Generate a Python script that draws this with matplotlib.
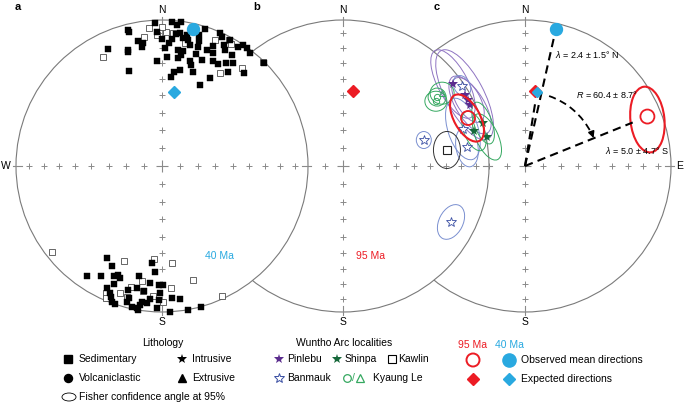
import numpy as np
import matplotlib.pyplot as plt
from matplotlib.patches import Circle, Ellipse, Arc

plt.rcParams['font.family'] = ['Liberation Sans', 'DejaVu Sans']
plt.rcParams['mathtext.fontset'] = 'custom'
plt.rcParams['mathtext.it'] = 'Liberation Sans:italic'
plt.rcParams['mathtext.rm'] = 'Liberation Sans'

# ---- data (declination, inclination in degrees) ----
# panel a: site directions, filled = lower hemisphere, open = upper hemisphere
a_fill_dec = [357, 4, 7.5, 6, 346, 346, 358, 7.7, 10.8, 9.3, 15.8, 17.4, 23.6, 24.9, 349, 351, 0,
              3.3, 11.7, 13, 16.5, 23, 27.1, 28.4, 32.6, 33.8, 35.8, 335.2, 343.7, 343.4, 350.5, 1.5,
              7.9, 10.3, 9.7, 16.8, 21.2, 24.3, 28.5, 32.2, 37.9, 2.6, 357.3, 8.4, 16.9, 20.7, 14.9,
              16, 25.9, 28.8, 31.9, 34.6, 44.7, 340.8, 10.6, 7.2, 5.6, 18.3, 35.1, 41.4, 28.6, 25.4,
              6, 4.5,
              210.9, 206.6, 214.3, 209, 203.6, 202, 200.6, 191.8, 185.9, 183.8, 202.1, 185.9, 181.4,
              179.5, 204.3, 202.3, 201.3, 195.3, 191.6, 194, 194.4, 188.2, 180.9, 181.3, 175.7, 172.3,
              200.2, 198.8, 192, 190, 189, 188.4, 182, 176.9, 169.8, 164.5, 189.5, 186.2, 185.2]
a_fill_inc = [2.2, 1.2, 0.6, 3.3, 4.5, 6.0, 9.0, 8.9, 9.5, 12.2, 7.5, 1.9, 0.7, 2.9, 13.9, 15.8, 14.1,
              16.8, 12.9, 16.0, 11.6, 11.6, 7.6, 2.2, 3.7, 0.3, 0.5, 12.8, 18.4, 19.8, 18.6, 20.5,
              21.1, 21.2, 24.0, 15.9, 15.8, 16.1, 10.5, 11.1, 2.2, 26.2, 28.7, 26.1, 21.1, 23.5, 26.4,
              28.7, 21.3, 21.5, 18.1, 15.4, 0.8, 31.7, 33.8, 35.2, 38.4, 32.9, 22.4, 16.1, 32, 38.8,
              10, 13.5,
              27.3, 24.5, 9.7, 14.9, 19.1, 20.8, 19.4, 24.1, 33.9, 28, 13.8, 20.7, 19.8,
              19.8, 9.0, 6.7, 4.2, 13, 15.8, 7.5, 4.4, 14.6, 14.1, 9, 10.2, 8.9,
              0.8, 0.2, 1.4, 1.4, 4.1, 6.5, 3.0, 0.2, 0, 0, 0, 6.3, 9.6]
a_open_dec = [354.6, 1.7, 4.7, 352, 10.6, 22.8, 28, 29.5, 331.6, 32, 39.2, 44.2, 0, 358,
              232, 201.8, 184.9, 174.1, 164.8, 189.9, 194.4, 188.6, 175.8, 198.3, 203.8, 203,
              184, 179.6, 155.2, 195]
a_open_inc = [-5.6, -9, -9.4, -11.8, -15.4, -7.1, -2.6, -4.5, -16.2, -25.8, -14.4, -0.8, -5.3, -11,
              -5, -30.5, -36.3, -33.9, -20.4, -21.3, -15.5, -14.6, -17.3, -9.1, -5.5, -2,
              -11.7, -7.6, -2.2, -7.9]

# mean directions
obs40 = (12.7, 4.4)
exp40 = (9.2, 47.4)
exp95 = (7.4, 47.0)
obs95 = (68.0, 10.5)
arc_mean = (310.1, 47.7)

# panel c: Wuntho Arc localities
pinlebu_dec = [318.7, 319.7, 318.0, 319.2]
pinlebu_inc = [26.2, 36.2, 43.1, 40.0]
banmauk_dec = [321.8, 300.8, 288.1, 284.4, 232.9]
banmauk_inc = [30.8, 49.0, 55.6, 29.2, 36.6]
shinpa_dec = [315.7, 307.4, 304.5]
shinpa_inc = [56.2, 63.2, 55.1]
kyaung_c_dec = [308.1, 306.0]
kyaung_c_inc = [24.5, 25.5]
kyaung_t_dec = [311.3]
kyaung_t_inc = [25.4]
kawlin_dec = [281.6]
kawlin_inc = [44.6]

# confidence ellipse shapes on the net (width, height, angle)
pinlebu_ell = [(76, 30, 62), (100, 38, 62), (66, 28, 58), (50, 24, 60)]
banmauk_ell = [(22, 16, 60), (64, 30, 72), (40, 22, 80), (17, 15, 90), (37, 24, -63)]
shinpa_ell = [(44, 18, 70), (50, 22, 65), (42, 20, 68)]
kyaung_ell = [(18, 18, 0), (22, 20, 0)]

BLUE = '#29a9e0'
RED = '#ec1c24'
PURPLE = '#5b2d8e'
PURPLE_L = '#8f74c2'
NAVY = '#3a4fa3'
NAVY_L = '#7a8fd0'
GREEN_D = '#16683a'
GREEN = '#35a860'
GREY = '#8a8a8a'

CY = 166
R = 146
CX = [162, 343, 525]


def proj(cx, dec, inc):
    dec = np.radians(np.asarray(dec, dtype=float))
    inc = np.abs(np.asarray(inc, dtype=float))
    r = R * np.sqrt(2) * np.sin(np.radians(90 - inc) / 2)
    return cx + r * np.sin(dec), CY - r * np.cos(dec)


fig = plt.figure(figsize=(6.85, 4.03), dpi=100)
ax = fig.add_axes([0, 0, 1, 1])
ax.set_xlim(0, 685)
ax.set_ylim(403, 0)
ax.set_aspect('equal')
ax.axis('off')


def draw_net(cx, z):
    ax.add_patch(Circle((cx, CY), R, facecolor='white', edgecolor='#7a7a7a', lw=0.8, zorder=z))
    incs = 90 - np.arange(10, 90, 10)
    for az in [0, 90, 180, 270]:
        xs, ys = proj(cx, np.full(len(incs), az), incs)
        ax.plot(xs, ys, '+', ms=3.8, mew=0.7, color=GREY, zorder=z + 0.1)
        a = np.radians(az)
        ax.plot([cx + (R - 6) * np.sin(a), cx + (R + 3) * np.sin(a)],
                [CY - (R - 6) * np.cos(a), CY - (R + 3) * np.cos(a)],
                color=GREY, lw=0.8, zorder=z + 0.1)
    ax.plot([cx], [CY], '+', ms=9, mew=0.8, color=GREY, zorder=z + 0.1)
    ax.text(cx, CY - R - 10, 'N', ha='center', va='center', fontsize=7.5, zorder=z)
    ax.text(cx, CY + R + 10, 'S', ha='center', va='center', fontsize=7.5, zorder=z)


draw_net(CX[2], 1)
draw_net(CX[1], 2)
draw_net(CX[0], 3)
ax.text(6, CY, 'W', ha='center', va='center', fontsize=7.5)
ax.text(680, CY, 'E', ha='center', va='center', fontsize=7.5)

for lab, x in zip(['a', 'b', 'c'], [18, 257, 437]):
    ax.text(x, 7, lab, ha='center', va='center', fontsize=8, fontweight='bold')

# ---- panel a ----
x, y = proj(CX[0], a_open_dec, a_open_inc)
ax.plot(x, y, 's', ms=4.2, mfc='white', mec='#4d4d4d', mew=0.6, zorder=6)
x, y = proj(CX[0], a_fill_dec, a_fill_inc)
ax.plot(x, y, 's', ms=4.2, mfc='black', mec='black', mew=0.3, zorder=6)
x, y = proj(CX[0], *obs40)
ax.plot(x, y, 'o', ms=8.6, color=BLUE, zorder=8)
x, y = proj(CX[0], *exp40)
ax.plot(x, y, 'D', ms=6.1, color=BLUE, zorder=8)
ax.text(219, 256, '40 Ma', color=BLUE, fontsize=7.5, ha='center', va='center')

# ---- panel b ----
x, y = proj(CX[1], *exp95)
ax.plot(x, y, 'D', ms=5.8, color=RED, zorder=8)
ax.text(371, 256, '95 Ma', color=RED, fontsize=7.5, ha='center', va='center')

# ---- panel c ----
cx = CX[2]


def ellipses(decs, incs, shapes, color, lw=0.7):
    xs, ys = proj(cx, decs, incs)
    for i, (w, h, ang) in enumerate(shapes):
        j = min(i, len(xs) - 1)
        ax.add_patch(Ellipse((xs[j], ys[j]), w, h, angle=ang, fill=False,
                             edgecolor=color, lw=lw, zorder=9))


ellipses(pinlebu_dec, pinlebu_inc, pinlebu_ell, PURPLE_L)
ellipses(banmauk_dec, banmauk_inc, banmauk_ell, NAVY_L)
ellipses(shinpa_dec, shinpa_inc, shinpa_ell, GREEN)
ellipses(kyaung_c_dec + kyaung_t_dec, kyaung_c_inc + kyaung_t_inc,
         kyaung_ell + [(24, 22, 0)], GREEN)
ellipses(kawlin_dec, kawlin_inc, [(27, 37, 0)], '#333333')

x, y = proj(cx, pinlebu_dec, pinlebu_inc)
ax.plot(x, y, '*', ms=7, color=PURPLE, mew=0, zorder=11)
x, y = proj(cx, banmauk_dec, banmauk_inc)
ax.plot(x, y, '*', ms=7, mfc='white', mec=NAVY, mew=0.6, zorder=11)
x, y = proj(cx, shinpa_dec, shinpa_inc)
ax.plot(x, y, '*', ms=7, color=GREEN_D, mew=0, zorder=11)
x, y = proj(cx, kyaung_c_dec, kyaung_c_inc)
ax.plot(x, y, 'o', ms=4.5, mfc='none', mec=GREEN, mew=0.7, zorder=11)
x, y = proj(cx, kyaung_t_dec, kyaung_t_inc)
ax.plot(x, y, '^', ms=4.5, mfc='none', mec=GREEN, mew=0.7, zorder=11)
x, y = proj(cx, kawlin_dec, kawlin_inc)
ax.plot(x, y, 's', ms=5.5, mfc='white', mec='#222222', mew=0.8, zorder=11)

# red mean of arc localities
x, y = proj(cx, *arc_mean)
ax.add_patch(Ellipse((x - 1, y), 52, 26, angle=61, fill=False, edgecolor=RED, lw=1.5, zorder=12))
ax.add_patch(Circle((x, y), 7, fill=False, edgecolor=RED, lw=1.3, zorder=12))

# observed 95 Ma direction
x95, y95 = proj(cx, *obs95)
ax.add_patch(Ellipse((x95, y95 + 3), 66, 34, angle=84, fill=False, edgecolor=RED, lw=1.5, zorder=12))
ax.add_patch(Circle((x95, y95), 7, fill=False, edgecolor=RED, lw=1.3, zorder=12))

# expected & observed 40 Ma
x, y = proj(cx, *exp95)
ax.plot(x, y, 'D', ms=5.8, color=RED, zorder=13)
x, y = proj(cx, *exp40)
ax.plot(x, y, 'D', ms=5.6, color=BLUE, zorder=14)
x, y = proj(cx, *obs40)
ax.plot(x, y, 'o', ms=8.6, color=BLUE, zorder=14)

# dashed lines from centre
for d, f in [(obs40, 0.95), (exp40, 0.9), (obs95, 0.88)]:
    px, py = proj(cx, *d)
    ax.plot([cx, cx + f * (px - cx)], [CY, CY + f * (py - CY)], color='black',
            lw=1.5, dashes=(4, 2.5), zorder=13)

rr = 74
ax.add_patch(Arc((cx, CY), 2 * rr, 2 * rr, theta1=-71, theta2=-27, color='black',
                 lw=1.3, linestyle=(0, (4, 2.5)), zorder=13))
th = np.radians(-20)
tip = (cx + rr * np.cos(th), CY + rr * np.sin(th))
tan = np.array([-np.sin(th), np.cos(th)])
ax.annotate('', xy=tip, xytext=(tip[0] - 9 * tan[0], tip[1] - 9 * tan[1]),
            arrowprops=dict(arrowstyle='-|>', color='black', lw=1.2, mutation_scale=9),
            zorder=13)

ax.text(555, 54, r'$\it{\lambda}$ = 2.4 ± 1.5° N', fontsize=6.5, va='center', ha='left', zorder=15)
ax.text(576, 95, r'$\it{R}$ = 60.4 ± 8.7°', fontsize=6.5, va='center', ha='left', zorder=15)
ax.text(605, 151, r'$\it{\lambda}$ = 5.0 ± 4.7° S', fontsize=6.5, va='center', ha='left', zorder=15)

# ---- legends ----
fs = 7.5
ax.text(163, 343, 'Lithology', fontsize=fs, ha='center', va='center')
ax.plot(68, 359, 's', ms=5.6, color='black')
ax.text(79, 359, 'Sedimentary', fontsize=fs, va='center')
ax.plot(182, 359, '*', ms=7.5, color='black', mew=0)
ax.text(192, 359, 'Intrusive', fontsize=fs, va='center')
ax.plot(68, 378, 'o', ms=5.8, color='black')
ax.text(79, 378, 'Volcaniclastic', fontsize=fs, va='center')
ax.plot(182, 378, '^', ms=6, color='black')
ax.text(192, 378, 'Extrusive', fontsize=fs, va='center')
ax.add_patch(Ellipse((69, 397), 14, 8, fill=False, edgecolor='black', lw=0.6))
ax.text(79, 397, 'Fisher confidence angle at 95%', fontsize=fs, va='center')

ax.text(344, 343, 'Wuntho Arc localities', fontsize=fs, ha='center', va='center')
ax.plot(279, 359, '*', ms=7.5, color=PURPLE, mew=0)
ax.text(287, 359, 'Pinlebu', fontsize=fs, va='center')
ax.plot(337, 359, '*', ms=7.5, color=GREEN_D, mew=0)
ax.text(345, 359, 'Shinpa', fontsize=fs, va='center')
ax.plot(392, 359, 's', ms=5.5, mfc='white', mec='black', mew=0.8)
ax.text(398, 359, 'Kawlin', fontsize=fs, va='center')
ax.plot(279, 378, '*', ms=7.5, mfc='white', mec=NAVY, mew=0.7)
ax.text(287, 378, 'Banmauk', fontsize=fs, va='center')
ax.plot(347, 378, 'o', ms=5.5, mfc='none', mec=GREEN, mew=0.9)
ax.text(353, 378, '/', fontsize=fs, va='center', ha='center', color=GREEN)
ax.plot(360, 378, '^', ms=5.5, mfc='none', mec=GREEN, mew=0.9)
ax.text(373, 378, 'Kyaung Le', fontsize=fs, va='center')

ax.text(473, 345, '95 Ma', fontsize=fs, color=RED, ha='center', va='center')
ax.text(509, 345, '40 Ma', fontsize=fs, color=BLUE, ha='center', va='center')
ax.add_patch(Circle((473, 360), 6.5, fill=False, edgecolor=RED, lw=1.4))
ax.plot(509, 360, 'o', ms=9.5, color=BLUE)
ax.text(521, 360, 'Observed mean directions', fontsize=fs, va='center')
ax.plot(473, 379, 'D', ms=5.8, color=RED)
ax.plot(509, 379, 'D', ms=5.8, color=BLUE)
ax.text(521, 379, 'Expected directions', fontsize=fs, va='center')

fig.savefig('out.png', dpi=100)
